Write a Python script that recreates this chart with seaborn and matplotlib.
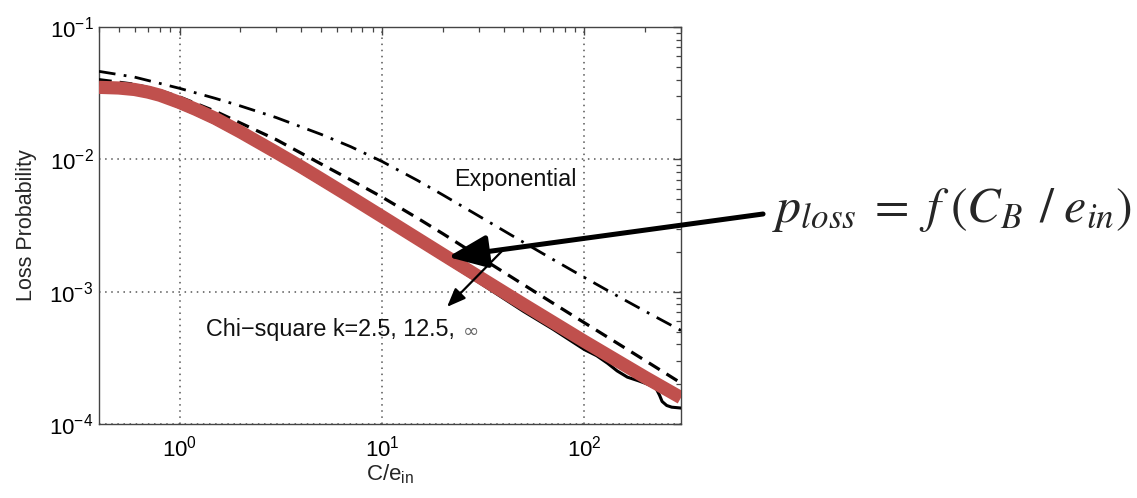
import numpy as np
import pandas as pd
import matplotlib
matplotlib.use("Agg")
import matplotlib.pyplot as plt
import seaborn as sns

# ---- data ----
x_exp = [0.4, 0.6, 1.0, 1.5, 2.0, 3.0, 5.0, 7.0, 10, 15, 20, 30, 50, 70, 100, 150, 200, 300]
y_exp = [0.0462, 0.0418, 0.0344, 0.0289, 0.0253, 0.0207, 0.01545, 0.01247, 0.00964, 0.00692,
         0.00538, 0.00374, 0.00236, 0.00175, 0.00128, 0.000904, 0.00071, 0.000509]

x_k25 = [0.4, 0.6, 0.8, 1.0, 1.5, 2.0, 3.0, 5.0, 7.0, 10, 15, 20, 30, 50, 70, 100, 150, 200, 300]
y_k25 = [0.0400, 0.0369, 0.0331, 0.0296, 0.0231, 0.0188, 0.0141, 0.00923, 0.00700, 0.00519,
         0.00359, 0.00274, 0.00185, 0.00113, 0.000818, 0.000582, 0.000396, 0.000301, 0.000204]

x_sim = [0.4, 0.5, 0.6, 0.7, 0.8, 1.0, 1.2, 1.5, 2.0, 3.0, 4.0, 5.0, 7.0, 10, 20, 30, 50, 70,
         100, 115, 130, 145, 163, 185, 200, 225, 235, 242, 255, 270, 300]
y_sim = [0.0345, 0.0335, 0.0320, 0.0302, 0.0285, 0.0247, 0.0220, 0.0187, 0.0148, 0.0104,
         0.0080, 0.0065, 0.0048, 0.0034, 0.00175, 0.00118, 0.00071, 0.00052, 0.000365,
         0.000328, 0.000288, 0.000252, 0.000226, 0.000212, 0.000203, 0.000188, 0.000165,
         0.000148, 0.000138, 0.000134, 0.000132]

x_fit = [0.4, 0.5, 0.6, 0.7, 0.8, 1.0, 1.2, 1.5, 2.0, 3.0, 4.0, 5.0, 7.0, 10, 20, 30, 50,
         100, 200, 300]
y_fit = [0.0350, 0.0346, 0.0337, 0.0322, 0.0305, 0.0269, 0.0239, 0.0204, 0.0161, 0.0113,
         0.00875, 0.00711, 0.00519, 0.00370, 0.00191, 0.00130, 0.000802, 0.000421,
         0.000225, 0.000158]

x_ticks = [1, 10, 100]
y_ticks = [1e-4, 1e-3, 1e-2, 1e-1]

sns.set_style("white")
plt.rcParams["font.family"] = ["Liberation Sans", "DejaVu Sans"]
plt.rcParams["mathtext.fontset"] = "custom"
plt.rcParams["mathtext.rm"] = "Liberation Sans"
plt.rcParams["mathtext.it"] = "Liberation Sans:italic"

fig = plt.figure(figsize=(11.37, 4.98), dpi=100)
ax = fig.add_axes([99 / 1137, 1 - 424 / 498, 582 / 1137, 397 / 498])

df_exp = pd.DataFrame({"x": x_exp, "y": y_exp})
df_k25 = pd.DataFrame({"x": x_k25, "y": y_k25})
df_sim = pd.DataFrame({"x": x_sim, "y": y_sim})
df_fit = pd.DataFrame({"x": x_fit, "y": y_fit})

sns.lineplot(data=df_exp, x="x", y="y", ax=ax, color="black", lw=2.0,
             linestyle=(0, (6, 3, 1, 3)), sort=False, zorder=3)
sns.lineplot(data=df_k25, x="x", y="y", ax=ax, color="black", lw=2.3,
             linestyle=(0, (4, 2.5)), sort=False, zorder=3)
sns.lineplot(data=df_sim, x="x", y="y", ax=ax, color="black", lw=2.2, sort=False, zorder=3)
sns.lineplot(data=df_fit, x="x", y="y", ax=ax, color="#C0504D", lw=9.5,
             sort=False, zorder=4, solid_capstyle="butt")

ax.set_xscale("log")
ax.set_yscale("log")
ax.set_xlim(0.4, 300)
ax.set_ylim(1e-4, 1e-1)
ax.set_xticks(x_ticks)
ax.set_yticks(y_ticks)

ax.grid(True, which="major", linestyle=(0, (1, 3)), color="#555555", lw=1.1)
ax.tick_params(which="both", direction="in", top=True, right=True,
               colors="#444444", labelcolor="black")
ax.tick_params(which="major", length=6, width=1.0, labelsize=16)
ax.tick_params(which="minor", length=3.5, width=0.9)
ax.tick_params(axis="x", which="major", pad=8)
ax.tick_params(axis="y", which="major", pad=4)
for s in ax.spines.values():
    s.set_color("#444444")
    s.set_linewidth(1.0)
    s.set_visible(True)

ax.set_xlabel("C/e$_{\\mathdefault{in}}$", fontsize=16, labelpad=1)
ax.set_ylabel("Loss Probability", fontsize=15.5, labelpad=9)

ax.text(0.610, 0.615, "Exponential", transform=ax.transAxes, fontsize=16.8,
        va="center", ha="left", color="#111111", zorder=6)
ax.text(0.183, 0.237, "Chi\u2212square k=2.5, 12.5,", transform=ax.transAxes,
        fontsize=16.8, va="center", ha="left", color="#111111", zorder=6)
ax.text(0.626, 0.232, "\u221e", transform=ax.transAxes, fontsize=14,
        va="center", ha="left", color="#666666", zorder=6,
        family=["DejaVu Sans"])

# arrows
ax.annotate("", xy=(0.598, 0.295), xycoords="axes fraction",
            xytext=(0.694, 0.438), textcoords="axes fraction",
            arrowprops=dict(arrowstyle="-|>,head_length=0.75,head_width=0.3",
                            mutation_scale=15, lw=1.6, color="black",
                            shrinkA=0, shrinkB=0), zorder=7)
ax.annotate("", xy=(0.5997, 0.4207), xycoords="axes fraction",
            xytext=(1.141, 0.529), textcoords="axes fraction",
            arrowprops=dict(arrowstyle="-|>,head_length=1.2,head_width=0.5",
                            mutation_scale=20, lw=3.6, color="black",
                            shrinkA=0, shrinkB=0), zorder=7, annotation_clip=False)

fig.text(772 / 1137, 1 - 222 / 498, r"$p_{loss}\;=\;f\;(C_B\;\,/\;e_{in})$",
         fontsize=36, math_fontfamily="stix", ha="left", va="baseline")

fig.savefig("out.png", dpi=100)
